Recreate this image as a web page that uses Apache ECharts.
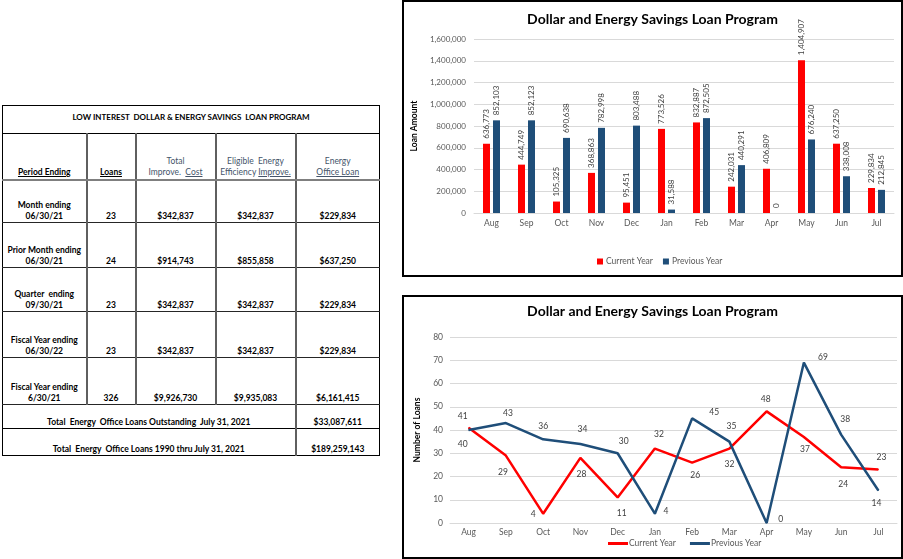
<!DOCTYPE html>
<html>
<head>
<meta charset="utf-8">
<script src="https://cdn.jsdelivr.net/npm/echarts@6/dist/echarts.min.js"></script>
<style>
  html, body { margin:0; padding:0; background:#fff; width:903px; height:559px; overflow:hidden; font-family:Lato, "Open Sans", sans-serif; }
  .box { position:absolute; box-sizing:border-box; border:2px solid #000; }
  .chart { position:absolute; }
  #tbl { position:absolute; left:2px; top:105px; width:377px; border-collapse:collapse; table-layout:fixed; font-family:Lato, sans-serif; font-size:8.5px; font-weight:bold; color:#000; }
  #tbl td { text-align:center; vertical-align:bottom; padding:0; line-height:11px; border-left:2px solid #5f5f5f; border-right:2px solid #5f5f5f; border-bottom:1.5px solid #262626; white-space:pre; overflow:hidden; }
  #tbl td.first { border-left:1.5px solid #000; }
  #tbl td.last { border-right:1.5px solid #000; }
  #tbl tr.title td { font-size:8px; border-top:1.5px solid #000; border-bottom:1.5px solid #000; vertical-align:middle; padding:0 0 4px 0; border-left:1.5px solid #000; border-right:1.5px solid #000; }
  #tbl tr.head td { border-bottom:2px solid #7f7f7f; padding-bottom:1px; }
  #tbl tr.head td.blue { color:#44546a; font-weight:normal; font-size:8.5px; }
  #tbl u { text-decoration:underline; }
</style>
</head>
<body>
<table id="tbl"></table>
<div class="box" style="left:402px;top:0px;width:501px;height:277px;"></div>
<div class="box" style="left:402px;top:295px;width:501px;height:264px;"></div>
<div id="c1" class="chart" style="left:402px;top:0px;width:501px;height:277px;"></div>
<div id="c2" class="chart" style="left:402px;top:295px;width:501px;height:264px;"></div>
<script>
// ---------- data ----------
const tableTitle = 'LOW INTEREST  DOLLAR & ENERGY SAVINGS  LOAN PROGRAM';
const periodLabels = [['Month ending','06/30/21'],['Prior Month ending','06/30/21'],['Quarter  ending','09/30/21'],['Fiscal Year ending','06/30/22'],['Fiscal Year ending','6/30/21']];
const loanCounts = [23, 24, 23, 23, 326];
const totalImproveCost = [342837, 914743, 342837, 342837, 9926730];
const eligibleImprove = [342837, 855858, 342837, 342837, 9935083];
const officeLoan = [229834, 637250, 229834, 229834, 6161415];
const totalLabels = ['Total  Energy  Office Loans Outstanding  July 31, 2021', 'Total  Energy  Office Loans 1990 thru July 31, 2021'];
const totalValues = [33087611, 189259143];

const months = ['Aug','Sep','Oct','Nov','Dec','Jan','Feb','Mar','Apr','May','Jun','Jul'];
const seriesNames = ['Current Year','Previous Year'];
const amountCurrent = [636773, 444749, 105325, 368863, 95451, 773526, 832887, 242031, 406809, 1404907, 637250, 229834];
const amountPrevious = [852103, 852123, 690638, 782998, 803488, 31588, 872505, 440291, 0, 676240, 338008, 212845];
const loansCurrent = [41, 29, 4, 28, 11, 32, 26, 32, 48, 37, 24, 23];
const loansPrevious = [40, 43, 36, 34, 30, 4, 45, 35, 0, 69, 38, 14];

// ---------- styles (label offsets, not data) ----------
const curLabelOffset = [[-6,-11],[-3,17],[-10,1],[1,16],[4,16],[4,-14],[3,13],[0,16],[-1,-12],[1,12],[2,17],[3,-12]];
const prevLabelOffset = [[-6,14],[2,-10],[0,-13],[2,-15],[6,-12],[11,-2],[22,-6],[2,-15],[14,-4],[19,-5],[4,-15],[-2,13]];

const fmt = v => v.toLocaleString('en-US');
const money = v => '$' + fmt(v);

// ---------- table ----------
(function(){
  const colW = [84, 49, 80, 80, 84];
  const rowH = [43, 45, 44, 46, 47];
  let h = '<colgroup>' + colW.map(w => '<col style="width:' + w + 'px">').join('') + '</colgroup>';
  h += '<tr class="title" style="height:28px"><td colspan="5" class="first last">' + tableTitle.replace(/&/g,'&amp;') + '</td></tr>';
  h += '<tr class="head" style="height:46px">' +
       '<td class="first"><u>Period Ending</u></td>' +
       '<td><u>Loans</u></td>' +
       '<td class="blue">Total\nImprove.  <u>Cost</u></td>' +
       '<td class="blue">Eligible  Energy\nEfficiency <u>Improve.</u></td>' +
       '<td class="blue last">Energy\n<u>Office Loan</u></td></tr>';
  periodLabels.forEach((p, i) => {
    h += '<tr style="height:' + rowH[i] + 'px">' +
      '<td class="first">' + p[0] + '\n' + p[1] + '</td>' +
      '<td>' + loanCounts[i] + '</td>' +
      '<td>' + money(totalImproveCost[i]) + '</td>' +
      '<td>' + money(eligibleImprove[i]) + '</td>' +
      '<td class="last">' + money(officeLoan[i]) + '</td></tr>';
  });
  const totH = [24, 27];
  totalLabels.forEach((t, i) => {
    h += '<tr style="height:' + totH[i] + 'px"><td colspan="4" class="first" style="border-bottom-color:#000;padding-bottom:0.5px">' + t + '</td>' +
         '<td class="last" style="border-bottom-color:#000;padding-bottom:0.5px">' + money(totalValues[i]) + '</td></tr>';
  });
  document.getElementById('tbl').innerHTML = h;
})();

// ---------- charts ----------
const FONT = 'Lato';
const RED = '#ff0000', BLUE = '#1f4e79';
const gridLine = { lineStyle: { color: '#d9d9d9', width: 1 } };

const chart1 = echarts.init(document.getElementById('c1'));
chart1.setOption({
  animation: false,
  textStyle: { fontFamily: FONT },
  title: { text: 'Dollar and Energy Savings Loan Program', left: 'center', top: 12, padding: 0,
           textStyle: { fontFamily: FONT, fontSize: 14, fontWeight: 'bold', color: '#000' } },
  legend: { left: 195, top: 257, padding: 0, icon: 'rect', itemWidth: 6, itemHeight: 6, itemGap: 10,
            data: seriesNames, textStyle: { fontFamily: FONT, fontSize: 8.5, color: '#595959', padding: [0,0,0,-2] } },
  grid: { left: 64, top: 39, width: 428, height: 174, containLabel: false },
  xAxis: { type: 'category', data: months, axisTick: { show: false },
           axisLine: { lineStyle: { color: '#d9d9d9' } },
           axisLabel: { margin: 6, fontSize: 8.5, color: '#595959', fontFamily: FONT } },
  yAxis: { type: 'value', min: 0, max: 1600000, interval: 200000,
           name: 'Loan Amount', nameLocation: 'middle', nameRotate: 90, nameGap: 45,
           nameTextStyle: { fontFamily: FONT, fontSize: 8.5, fontWeight: 'bold', color: '#000' },
           axisLine: { show: false }, axisTick: { show: false }, splitLine: gridLine,
           axisLabel: { margin: 8, fontSize: 8, color: '#595959', fontFamily: FONT, formatter: v => fmt(v) } },
  series: [
    { name: seriesNames[0], type: 'bar', data: amountCurrent, barWidth: 7, barGap: '43%',
      itemStyle: { color: RED },
      label: { show: true, position: 'top', rotate: 90, align: 'left', verticalAlign: 'middle', distance: 5,
               fontSize: 8, color: '#404040', fontFamily: FONT, formatter: p => fmt(p.value) } },
    { name: seriesNames[1], type: 'bar', data: amountPrevious, barWidth: 7,
      itemStyle: { color: BLUE },
      label: { show: true, position: 'top', rotate: 90, align: 'left', verticalAlign: 'middle', distance: 5,
               fontSize: 8, color: '#404040', fontFamily: FONT, formatter: p => fmt(p.value) } }
  ]
});

function lineData(vals, offs) {
  return vals.map((v, i) => ({ value: v, label: { offset: offs[i] } }));
}

const chart2 = echarts.init(document.getElementById('c2'));
chart2.setOption({
  animation: false,
  textStyle: { fontFamily: FONT },
  title: { text: 'Dollar and Energy Savings Loan Program', left: 'center', top: 9, padding: 0,
           textStyle: { fontFamily: FONT, fontSize: 14, fontWeight: 'bold', color: '#000' } },
  legend: { left: 206, top: 244, padding: 0, icon: 'rect', itemWidth: 20, itemHeight: 3, itemGap: 14,
            data: seriesNames, textStyle: { fontFamily: FONT, fontSize: 8.5, color: '#595959', padding: [0,0,0,-4] } },
  grid: { left: 48, top: 42, width: 447, height: 186, containLabel: false },
  xAxis: { type: 'category', data: months, axisTick: { show: false },
           axisLine: { lineStyle: { color: '#d9d9d9' } },
           axisLabel: { margin: 5, fontSize: 8.5, color: '#595959', fontFamily: FONT } },
  yAxis: { type: 'value', min: 0, max: 80, interval: 10,
           name: 'Number of Loans', nameLocation: 'middle', nameRotate: 90, nameGap: 27,
           nameTextStyle: { fontFamily: FONT, fontSize: 8.5, fontWeight: 'bold', color: '#000' },
           axisLine: { show: false }, axisTick: { show: false }, splitLine: gridLine,
           axisLabel: { margin: 7, fontSize: 8.5, color: '#595959', fontFamily: FONT } },
  series: [
    { name: seriesNames[0], type: 'line', data: lineData(loansCurrent, curLabelOffset),
      symbol: 'circle', symbolSize: 1, showSymbol: true,
      itemStyle: { color: RED }, lineStyle: { color: RED, width: 2.5 },
      label: { show: true, position: 'inside', fontSize: 8.5, color: '#404040', fontFamily: FONT } },
    { name: seriesNames[1], type: 'line', data: lineData(loansPrevious, prevLabelOffset),
      symbol: 'circle', symbolSize: 1, showSymbol: true,
      itemStyle: { color: BLUE }, lineStyle: { color: BLUE, width: 2.5 },
      label: { show: true, position: 'inside', fontSize: 8.5, color: '#404040', fontFamily: FONT } }
  ]
});
</script>
</body>
</html>
